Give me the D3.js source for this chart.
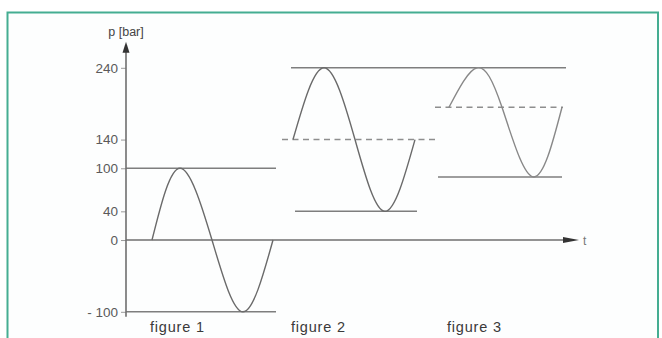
<!DOCTYPE html>
<html>
<head>
<meta charset="utf-8">
<script src="https://cdn.jsdelivr.net/npm/d3@7"></script>
<style>
  html, body { margin: 0; padding: 0; background: #ffffff; }
  svg { display: block; }
</style>
</head>
<body>
<svg id="chart" width="662" height="338"></svg>
<script>
// ---------- data ----------
// pressure axis
const yTickValues = [240, 140, 100, 40, 0, -100];
const yTickLabels = ["240", "140", "100", "40", "0", "- 100"];
const yAxisTitle = "p [bar]";
const xAxisTitle = "t";

// time axis domain (arbitrary time units)
const timeDomain = [0, 110];
const pressureDomain = [-100, 240];

// waveforms: time points and pressure values
const wave1Time = [6.5, 13.5, 21.5, 29.25, 36.75];
const wave1Pressure = [0, 100, 0, -100, 0];
const wave2Time = [41.75, 49.5, 57.25, 64.75, 72.25];
const wave2Pressure = [140, 240, 140, 40, 140];
const wave3Time = [80.75, 87.75, 94, 101.75, 109];
const wave3Pressure = [185, 240, 185, 88, 185];

const figureNames = ["figure 1", "figure 2", "figure 3"];

// reference levels: [start time, end time, pressure, dashed]
const levelStart = [0, 0, 41.25, 39, 42.25, 77.25, 78];
const levelEnd = [37.5, 37.5, 110, 77.75, 72.75, 109.25, 109];
const levelPressure = [100, -100, 240, 140, 40, 185, 88];
const levelDashed = [false, false, false, true, false, true, false];

// ---------- drawing ----------
const svg = d3.select("#chart");
const font = "'Liberation Sans', Arial, sans-serif";

// frame
svg.append("rect")
  .attr("x", 7.5).attr("y", 12.5)
  .attr("width", 650.5).attr("height", 345)
  .attr("fill", "#fdfefe")
  .attr("stroke", "#45ad92")
  .attr("stroke-width", 2);

const x = d3.scaleLinear().domain(timeDomain).range([126, 566]);
const y = d3.scaleLinear().domain(pressureDomain).range([311.8, 67.8]);

const axisColor = "#6f6f6f";

// reference level lines
const levels = levelPressure.map((p, i) => ({
  t0: levelStart[i], t1: levelEnd[i], p, dashed: levelDashed[i]
}));
svg.append("g").selectAll("line").data(levels).join("line")
  .attr("x1", d => x(d.t0)).attr("x2", d => x(d.t1))
  .attr("y1", d => y(d.p)).attr("y2", d => y(d.p))
  .attr("stroke", d => d.dashed ? "#8e8e8e" : "#7e7e7e")
  .attr("stroke-width", 1.5)
  .attr("stroke-dasharray", d => d.dashed ? "6,4.5" : null);

// y axis with ticks
const yAxis = d3.axisLeft(y)
  .tickValues(yTickValues)
  .tickFormat((d, i) => yTickLabels[i])
  .tickSize(5)
  .tickPadding(3);
const gy = svg.append("g").attr("transform", "translate(126,0)").call(yAxis);
gy.select(".domain").remove();
gy.selectAll(".tick line").attr("stroke", "#9a9a9a").attr("stroke-width", 1);
gy.selectAll(".tick text")
  .attr("fill", "#5a5a5a")
  .style("font-family", font)
  .style("font-size", "13.5px");

// y axis line + arrow
const yTip = y(pressureDomain[1]) - 26;
svg.append("line")
  .attr("x1", x(0)).attr("x2", x(0))
  .attr("y1", y(pressureDomain[0]) + 5).attr("y2", yTip + 10)
  .attr("stroke", axisColor).attr("stroke-width", 1.6);
svg.append("path")
  .attr("d", `M${x(0)},${yTip} L${x(0) - 3.5},${yTip + 11} L${x(0) + 3.5},${yTip + 11} Z`)
  .attr("fill", "#333");
svg.append("text")
  .attr("x", x(0)).attr("y", yTip - 6)
  .attr("text-anchor", "middle")
  .attr("fill", "#444")
  .style("font-family", font)
  .style("font-size", "12.5px")
  .text(yAxisTitle);

// x axis line + arrow
const xEnd = x(timeDomain[1]);
svg.append("line")
  .attr("x1", x(0)).attr("x2", xEnd)
  .attr("y1", y(0)).attr("y2", y(0))
  .attr("stroke", axisColor).attr("stroke-width", 1.6);
svg.append("path")
  .attr("d", `M${xEnd - 3},${y(0) - 3} L${xEnd + 13},${y(0)} L${xEnd - 3},${y(0) + 3} Z`)
  .attr("fill", "#333");
svg.append("text")
  .attr("x", xEnd + 17).attr("y", y(0) + 4.5)
  .attr("fill", "#777")
  .style("font-family", font)
  .style("font-size", "12px")
  .text(xAxisTitle);

// waveforms
const waves = [
  wave1Time.map((t, i) => [t, wave1Pressure[i]]),
  wave2Time.map((t, i) => [t, wave2Pressure[i]]),
  wave3Time.map((t, i) => [t, wave3Pressure[i]])
];
const line = d3.line()
  .x(d => x(d[0])).y(d => y(d[1]))
  .curve(d3.curveNatural);
svg.append("g").selectAll("path").data(waves).join("path")
  .attr("d", line)
  .attr("fill", "none")
  .attr("stroke", (d, i) => i === 2 ? "#888" : "#6a6a6a")
  .attr("stroke-width", 1.4);

// figure labels (anchored near the start of each waveform)
svg.append("g").selectAll("text").data(figureNames).join("text")
  .attr("x", (d, i) => x(waves[i][0][0]) - 2)
  .attr("y", 332)
  .attr("fill", "#3a3a3a")
  .style("font-family", font)
  .style("font-size", "14.5px")
  .style("letter-spacing", "0.8px")
  .text(d => d);
</script>
</body>
</html>
